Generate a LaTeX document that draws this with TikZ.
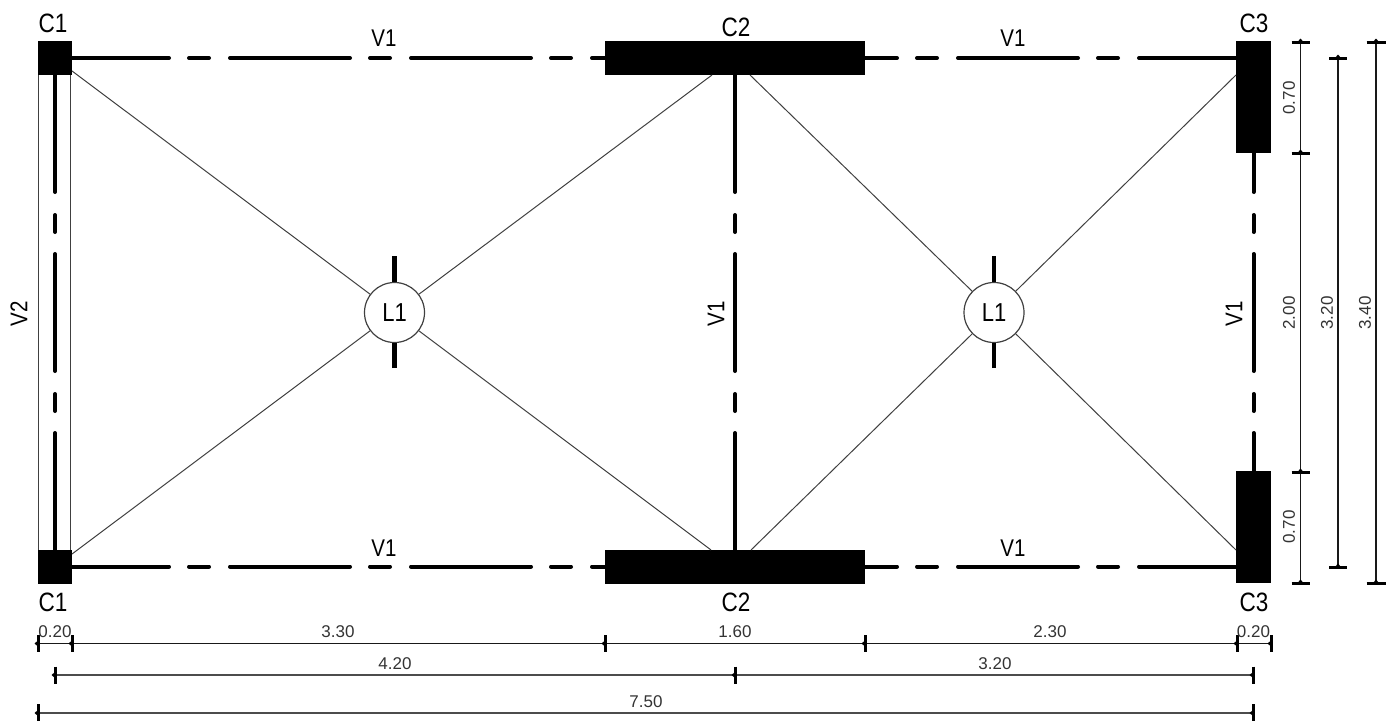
\documentclass[tikz,border=0pt]{standalone}
\usepackage{fontspec}
\usepackage{graphicx}
\setmainfont{Liberation Sans}
\newcommand{\tall}[1]{\scalebox{1}[1.18]{#1}}
\tikzset{
  x=1pt,y=-1pt,
  colbox/.style={rectangle,fill=black,draw=none,inner sep=0pt,outer sep=0pt},
  beamh/.style={line width=4pt,line cap=round,dash pattern=on 120pt off 20pt on 20pt off 21pt},
  beamv/.style={line width=4pt,line cap=round,dash pattern=on 117pt off 23pt on 17pt off 22pt},
  thinl/.style={line width=1pt,black!75},
  lampc/.style={circle,draw=black!75,line width=1.2pt,fill=white,minimum size=60pt,inner sep=0pt,font=\fontsize{22}{22}\selectfont},
  stub/.style={line width=4.5pt},
  mainl/.style={font=\fontsize{20.5}{20}\selectfont,inner sep=0pt},
  mainc/.style={font=\fontsize{22.5}{20}\selectfont,inner sep=0pt},
  diml/.style={font=\fontsize{17}{17}\selectfont,inner sep=0pt,text=black!80},
  dimk/.style={line width=1.3pt,black!90},
  dimg/.style={line width=1.6pt,black!70},
  wall/.style={line width=1.6pt,black!75},
  tick/.style={line width=3pt,black},
}
\newcommand{\tickv}[3]{\draw[tick] (#1,#2-#3) -- (#1,#2+#3); \fill (#1-3.5,#2) -- (#1,#2-3) -- (#1,#2+3) -- cycle;}
\newcommand{\tickh}[3]{\draw[tick] (#1-#3,#2) -- (#1+#3,#2); \fill (#1,#2-3.5) -- (#1-3,#2) -- (#1+3,#2) -- cycle;}
\begin{document}
\begin{tikzpicture}
\useasboundingbox (0,0) rectangle (1389,720);
% nodes for columns (placed first so that beams can refer to them)
\node[colbox,minimum width=34pt,minimum height=34pt] (c1t) at (55,58) {};
\node[colbox,minimum width=34pt,minimum height=34pt] (c1b) at (55,566.5) {};
\node[colbox,minimum width=260pt,minimum height=34pt] (c2t) at (735,58) {};
\node[colbox,minimum width=260pt,minimum height=34pt] (c2b) at (735,566.5) {};
\node[colbox,minimum width=35pt,minimum height=112pt] (c3t) at (1253.5,97) {};
\node[colbox,minimum width=35pt,minimum height=112pt] (c3b) at (1253.5,527) {};
% V2 wall
\coordinate (wl1) at (38.5,75); \coordinate (wl2) at (38.5,550);
\coordinate (wr1) at (70.5,75); \coordinate (wr2) at (70.5,550);
\draw[wall] (wl1) -- (wl2);
\draw[wall] (wr1) -- (wr2);
% lamps
\node[lampc] (l1a) at (394.5,312.5) {\tall{L1}};
\node[lampc] (l1b) at (994,312.5) {\tall{L1}};
% diagonals
\coordinate (da1) at (72,71); \coordinate (da2) at (712,75);
\coordinate (da3) at (72,554); \coordinate (da4) at (711,550);
\coordinate (db1) at (750,75); \coordinate (db2) at (1236,75);
\coordinate (db3) at (751,550); \coordinate (db4) at (1236,550);
\draw[thinl] (da1) -- (l1a); \draw[thinl] (da2) -- (l1a);
\draw[thinl] (da3) -- (l1a); \draw[thinl] (da4) -- (l1a);
\draw[thinl] (db1) -- (l1b); \draw[thinl] (db2) -- (l1b);
\draw[thinl] (db3) -- (l1b); \draw[thinl] (db4) -- (l1b);
% lamp stubs
\coordinate (sa1) at (394.5,256); \coordinate (sa2) at (394.5,368);
\coordinate (sb1) at (994,256); \coordinate (sb2) at (994,368);
\draw[stub] (sa1) -- (l1a.north); \draw[stub] (sa2) -- (l1a.south);
\draw[stub] (sb1) -- (l1b.north); \draw[stub] (sb2) -- (l1b.south);
% beams
\draw[beamh,dash phase=23pt] (c1t.east) -- (c2t.west);
\draw[beamh,dash phase=23pt] (c1b.east) -- (c2b.west);
\draw[beamh,dash phase=88pt] (c2t.east) -- (c3t.west |- c2t.east);
\draw[beamh,dash phase=88pt] (c2b.east) -- (c3b.west |- c2b.east);
\draw[beamv,dash phase=0pt] (c1t.south) -- (c1b.north);
\draw[beamv,dash phase=0pt] (c2t.south) -- (c2b.north);
\draw[beamv,dash phase=78pt] (c3t.south) -- (c3b.north);
% main labels
\node[mainc] (tc1t) at (53,23.5) {\tall{C1}};
\node[mainc] (tc1b) at (53,602) {\tall{C1}};
\node[mainc] (tc2t) at (736,27) {\tall{C2}};
\node[mainc] (tc2b) at (736,602) {\tall{C2}};
\node[mainc] (tc3t) at (1254,23.5) {\tall{C3}};
\node[mainc] (tc3b) at (1254,602) {\tall{C3}};
\node[mainl] (tv1) at (384,38) {\tall{V1}};
\node[mainl] (tv2) at (384,548) {\tall{V1}};
\node[mainl] (tv3) at (1013,38) {\tall{V1}};
\node[mainl] (tv4) at (1013,548) {\tall{V1}};
\node[mainl,rotate=90] (tv5) at (19,314) {\tall{V2}};
\node[mainl,rotate=90] (tv6) at (716,314) {\tall{V1}};
\node[mainl,rotate=90] (tv7) at (1234,314) {\tall{V1}};
% horizontal dimensions
\coordinate (h1a) at (38,643.5); \coordinate (h1b) at (1271,643.5);
\coordinate (h2a) at (55,675); \coordinate (h2b) at (1253,675);
\coordinate (h3a) at (38,713); \coordinate (h3b) at (1253,713);
\draw[dimk] (h1a) -- (h1b);
\draw[dimg] (h2a) -- (h2b);
\draw[dimg] (h3a) -- (h3b);
\foreach \p in {38,72,605,865,1237,1271}{\tickv{\p}{643.5}{8.5}}
\foreach \p in {55,735,1253}{\tickv{\p}{675}{8.5}}
\foreach \p in {38,1253}{\tickv{\p}{713}{9}}
\node[diml] (d1) at (55,632) {0.20};
\node[diml] (d2) at (338,632) {3.30};
\node[diml] (d3) at (735,632) {1.60};
\node[diml] (d4) at (1050,632) {2.30};
\node[diml] (d5) at (1253.5,632) {0.20};
\node[diml] (d6) at (395,664) {4.20};
\node[diml] (d7) at (995,664) {3.20};
\node[diml] (d8) at (646,702) {7.50};
% vertical dimensions
\coordinate (v1a) at (1300.5,42); \coordinate (v1b) at (1300.5,583);
\coordinate (v2a) at (1338,58); \coordinate (v2b) at (1338,567);
\coordinate (v3a) at (1376,42); \coordinate (v3b) at (1376,583);
\draw[dimk] (v1a) -- (v1b);
\draw[dimk] (v2a) -- (v2b);
\draw[dimk] (v3a) -- (v3b);
\foreach \p in {42,153,472,583}{\tickh{1300.5}{\p}{9}}
\foreach \p in {58,567}{\tickh{1338}{\p}{9}}
\foreach \p in {42,583}{\tickh{1376}{\p}{9.5}}
\node[diml,rotate=90] (e1) at (1289,98) {0.70};
\node[diml,rotate=90] (e2) at (1289,527) {0.70};
\node[diml,rotate=90] (e3) at (1289,313) {2.00};
\node[diml,rotate=90] (e4) at (1327,313) {3.20};
\node[diml,rotate=90] (e5) at (1365,313) {3.40};
\end{tikzpicture}
\end{document}
